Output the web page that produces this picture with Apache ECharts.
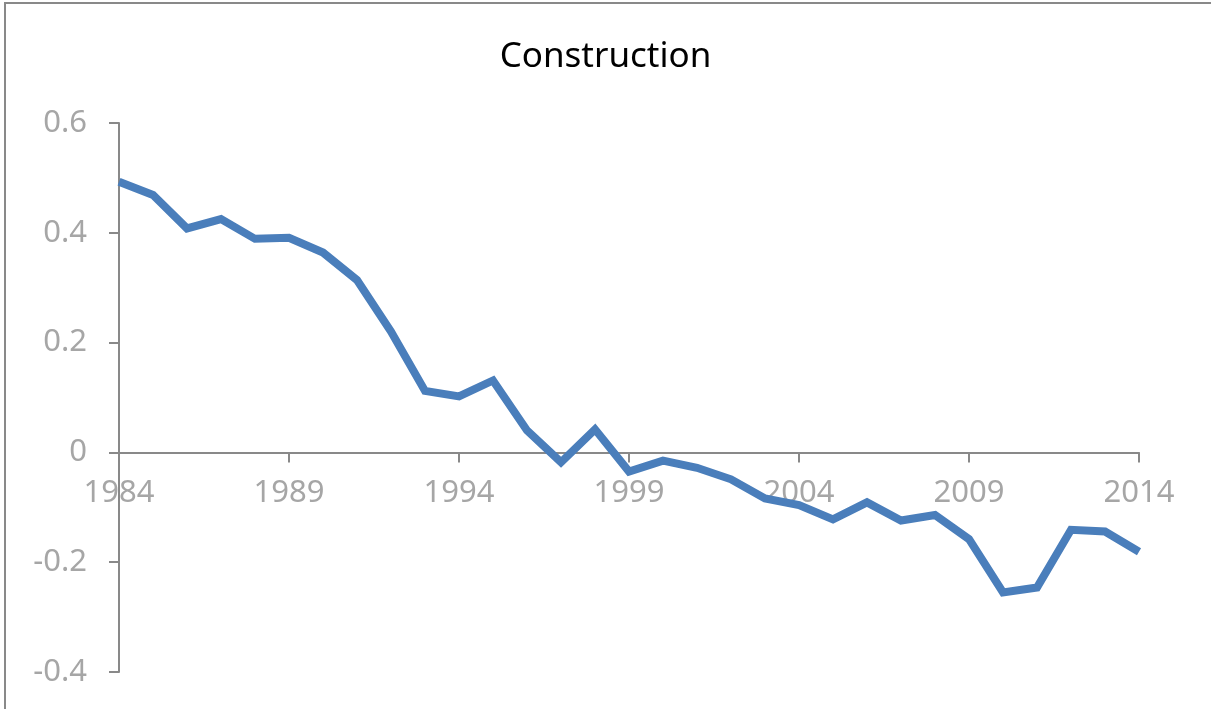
<!DOCTYPE html>
<html>
<head>
<meta charset="utf-8">
<script src="https://cdn.jsdelivr.net/npm/echarts@6/dist/echarts.min.js"></script>
<style>
  html, body { margin: 0; padding: 0; background: #fff; }
  #chart { width: 1211px; height: 709px; }
</style>
</head>
<body>
<div id="chart"></div>
<script>
const years = [
  "1984", "1985", "1986", "1987", "1988", "1989", "1990", "1991", "1992", "1993",
  "1994", "1995", "1996", "1997", "1998", "1999", "2000", "2001", "2002", "2003",
  "2004", "2005", "2006", "2007", "2008", "2009", "2010", "2011", "2012", "2013", "2014",
];
const construction = [
  0.493, 0.469, 0.408, 0.425, 0.389, 0.391, 0.364, 0.314, 0.220, 0.112,
  0.102, 0.131, 0.040, -0.018, 0.042, -0.035, -0.015, -0.028, -0.049, -0.084,
  -0.096, -0.122, -0.091, -0.124, -0.114, -0.158, -0.255, -0.246, -0.141, -0.144, -0.181,
];

const chart = echarts.init(document.getElementById("chart"));
const grey = "#898989";
const labelGrey = "#a6a6a6";
const font = "'Noto Sans', sans-serif";

const gridTop = 123;
const gridBottom = 37;
const yMin = -0.4;
const yMax = 0.6;
// move the category axis up from the bottom of the grid to the zero line
const plotH = 709 - gridTop - gridBottom;
const zeroOffset = -plotH * (0 - yMin) / (yMax - yMin);

chart.setOption({
  animation: false,
  graphic: [
    {
      type: "rect",
      shape: { x: 5, y: 3, width: 1400, height: 900 },
      style: { fill: null, stroke: grey, lineWidth: 2 },
    },
  ],
  title: {
    text: "Construction",
    left: "center",
    top: 35,
    textStyle: { fontFamily: font, fontSize: 35, fontWeight: "normal", color: "#000" },
  },
  grid: {
    left: 119,
    right: 72,
    top: gridTop,
    bottom: gridBottom,
    containLabel: false,
    outerBoundsMode: "none",
  },
  xAxis: {
    type: "category",
    data: years,
    boundaryGap: false,
    position: "bottom",
    offset: zeroOffset,
    axisLine: { onZero: false, lineStyle: { color: grey, width: 2 } },
    axisTick: { show: true, interval: 4, length: 10, lineStyle: { color: grey, width: 2 } },
    axisLabel: {
      interval: 4,
      margin: 25,
      color: labelGrey,
      fontFamily: font,
      fontSize: 31,
    },
    splitLine: { show: false },
  },
  yAxis: {
    type: "value",
    min: yMin,
    max: yMax,
    interval: 0.2,
    axisLine: { show: true, lineStyle: { color: grey, width: 2 } },
    axisTick: { show: true, length: 10, lineStyle: { color: grey, width: 2 } },
    axisLabel: {
      margin: 32,
      color: labelGrey,
      fontFamily: font,
      fontSize: 31,
      formatter: (v) => String(Math.round(v * 10) / 10),
    },
    splitLine: { show: false },
  },
  series: [
    {
      name: "Construction",
      type: "line",
      data: construction,
      showSymbol: false,
      lineStyle: { color: "#4a7ebb", width: 8, join: "miter" },
      itemStyle: { color: "#4a7ebb" },
    },
  ],
});
</script>
</body>
</html>
